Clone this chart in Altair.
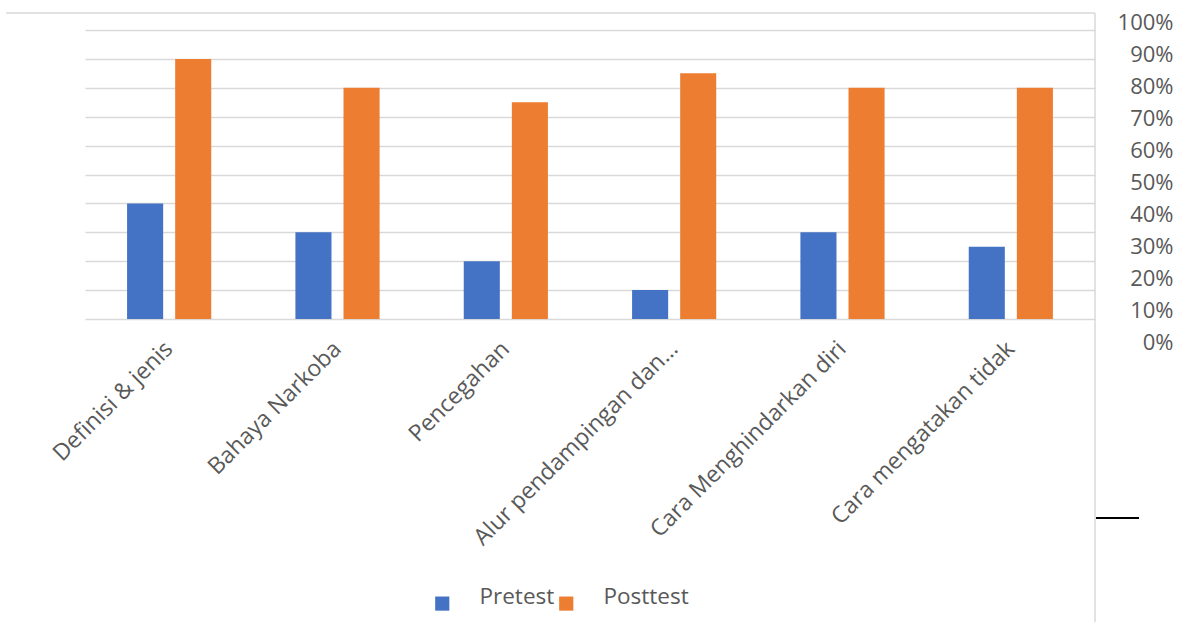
import altair as alt
import pandas as pd

categories = ["Definisi & jenis", "Bahaya Narkoba", "Pencegahan",
              "Alur pendampingan dan…", "Cara Menghindarkan diri", "Cara mengatakan tidak"]
pretest = [0.40, 0.30, 0.20, 0.10, 0.30, 0.25]
posttest = [0.90, 0.80, 0.75, 0.85, 0.80, 0.80]
series = ["Pretest", "Posttest"]
colors = ["#4472C4", "#ED7D31"]
tick_values = [0, 0.1, 0.2, 0.3, 0.4, 0.5, 0.6, 0.7, 0.8, 0.9, 1.0]

rows = []
for c, a, b in zip(categories, pretest, posttest):
    rows.append({"Category": c, "Series": "Pretest", "Value": a})
    rows.append({"Category": c, "Series": "Posttest", "Value": b})
df = pd.DataFrame(rows)

FONT = "Open Sans"
GRAY = "#595959"
GRID = "#d9d9d9"
W, H = 1010, 306

base = alt.Chart(df)

bars = base.mark_bar().encode(
    x=alt.X("Category:N", sort=categories, title=None,
            scale=alt.Scale(paddingInner=0.5, paddingOuter=0.25),
            axis=alt.Axis(labelAngle=-45, labelAlign="right", labelBaseline="middle",
                          labelPadding=26, labelFontSize=23, labelFont=FONT,
                          labelColor=GRAY, domain=False, ticks=False, labelLimit=400)),
    xOffset=alt.XOffset("Series:N", sort=series,
                        scale=alt.Scale(paddingInner=0.25, paddingOuter=0)),
    y=alt.Y("Value:Q", title=None,
            scale=alt.Scale(domain=[0, 1], range=[306, 17]),
            axis=alt.Axis(orient="left", values=tick_values, labels=False, ticks=False,
                          domain=False, grid=True, gridColor=GRID, gridWidth=1.5)),
    color=alt.Color("Series:N", sort=series,
                    scale=alt.Scale(domain=series, range=colors),
                    legend=alt.Legend(title=None, orient="none", direction="horizontal",
                                      legendX=346, legendY=579, padding=0,
                                      symbolType="square", symbolSize=200,
                                      symbolStrokeWidth=0, labelOffset=26,
                                      columnPadding=-3, labelFontSize=22.5,
                                      labelBaseline="alphabetic",
                                      labelFont=FONT, labelColor=GRAY)),
)

right_labels = base.mark_point(opacity=0).encode(
    y=alt.Y("Value:Q", title=None,
            scale=alt.Scale(domain=[0, 1], range=[329, 9]),
            axis=alt.Axis(orient="right", values=tick_values, format=".0%",
                          labelAlign="right", labelPadding=78, labelFontSize=22,
                          labelFont=FONT, labelColor=GRAY, domain=False, ticks=False,
                          grid=False)),
)

top_line = alt.Chart(pd.DataFrame({"k": [0]})).mark_rule(color=GRID, strokeWidth=1.5).encode(
    x=alt.value(-79), x2=alt.value(W), y=alt.value(0))
right_line = alt.Chart(pd.DataFrame({"k": [0]})).mark_rule(color=GRID, strokeWidth=1.5).encode(
    x=alt.value(W), y=alt.value(0), y2=alt.value(609))
black_dash = alt.Chart(pd.DataFrame({"k": [0]})).mark_rule(color="#000000", strokeWidth=2).encode(
    x=alt.value(W + 1), x2=alt.value(W + 44), y=alt.value(505))

chart = alt.layer(bars, right_labels, top_line, right_line, black_dash).resolve_scale(
    y="independent"
).properties(
    width=W, height=H,
    autosize=alt.AutoSizeParams(type="none"),
    padding={"left": 85, "top": 13, "right": 90, "bottom": 303},
).configure(background="white", view=alt.ViewConfig(strokeWidth=0))

chart.save("out.html", embed_options={"renderer": "svg", "actions": False})
